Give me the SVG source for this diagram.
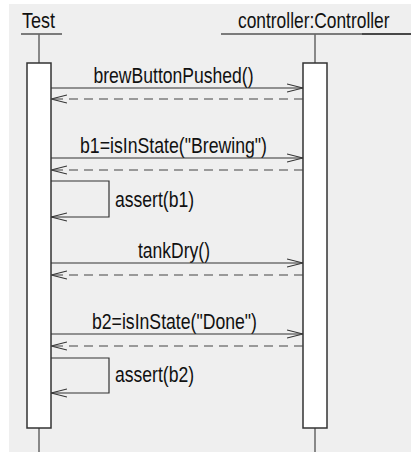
<svg xmlns="http://www.w3.org/2000/svg" width="411" height="452" viewBox="0 0 411 452">
  <style>
    text { font-family: "Liberation Sans", Arial, sans-serif; font-size: 22px; fill: #111; }
    .life { stroke: #666; stroke-width: 1.5; fill: none; }
    .act { fill: #fff; stroke: #333; stroke-width: 1.5; }
    .call { stroke: #333; stroke-width: 1.2; fill: none; }
    .ret { stroke: #444; stroke-width: 1.2; fill: none; stroke-dasharray: 9 6; }
    .head { stroke: #333; stroke-width: 1.2; fill: none; }
  </style>
  <defs>
    <marker id="open" viewBox="0 0 16 10" refX="16" refY="5" markerWidth="16" markerHeight="10" markerUnits="userSpaceOnUse" orient="auto">
      <path d="M0,1 L16,5 L0,9" class="head"/>
    </marker>
  </defs>

  <!-- canvas -->
  <rect x="9" y="4" width="402" height="448" fill="#efefef"/>

  <!-- participant: Test -->
  <g id="test">
    <text x="38.5" y="28" text-anchor="middle" textLength="33" lengthAdjust="spacingAndGlyphs">Test</text>
    <line x1="21" y1="34" x2="62" y2="34" stroke="#555" stroke-width="1.5"/>
    <line class="life" x1="39" y1="34" x2="39" y2="63"/>
    <line class="life" x1="39" y1="428" x2="39" y2="452"/>
    <rect class="act" x="27" y="63" width="24" height="365"/>
  </g>

  <!-- participant: controller (narrowed horizontally to fit the header) -->
  <g id="controller">
    <text transform="translate(238,28) scale(0.79,1)" x="0" y="0">controller:Controller</text>
    <line x1="221" y1="34" x2="362" y2="34" stroke="#555" stroke-width="1.5"/>
    <line x1="362" y1="34" x2="411" y2="34" stroke="#111" stroke-width="1.5"/>
    <line class="life" x1="315" y1="34" x2="315" y2="63"/>
    <line class="life" x1="315" y1="428" x2="315" y2="452"/>
    <rect class="act" x="303" y="63" width="24" height="365"/>
  </g>

  <!-- messages -->
  <g id="connectors">
    <text x="173.5" y="83" text-anchor="middle" textLength="160" lengthAdjust="spacingAndGlyphs">brewButtonPushed()</text>
    <line class="call" x1="51" y1="88" x2="303" y2="88" marker-end="url(#open)"/>
    <line class="ret" x1="303" y1="99" x2="51" y2="99" marker-end="url(#open)"/>

    <text x="173.5" y="152.5" text-anchor="middle" textLength="187" lengthAdjust="spacingAndGlyphs">b1=isInState("Brewing")</text>
    <line class="call" x1="51" y1="158" x2="303" y2="158" marker-end="url(#open)"/>
    <line class="ret" x1="303" y1="170" x2="51" y2="170" marker-end="url(#open)"/>

    <polyline class="call" points="51,181 109,181 109,217 51,217" marker-end="url(#open)"/>
    <text x="115" y="207" textLength="79" lengthAdjust="spacingAndGlyphs">assert(b1)</text>

    <text x="174" y="258" text-anchor="middle" textLength="72" lengthAdjust="spacingAndGlyphs">tankDry()</text>
    <line class="call" x1="51" y1="263" x2="303" y2="263" marker-end="url(#open)"/>
    <line class="ret" x1="303" y1="275" x2="51" y2="275" marker-end="url(#open)"/>

    <text x="174.5" y="328.5" text-anchor="middle" textLength="165" lengthAdjust="spacingAndGlyphs">b2=isInState("Done")</text>
    <line class="call" x1="51" y1="334" x2="303" y2="334" marker-end="url(#open)"/>
    <line class="ret" x1="303" y1="346" x2="51" y2="346" marker-end="url(#open)"/>

    <polyline class="call" points="51,358 109,358 109,393 51,393" marker-end="url(#open)"/>
    <text x="115" y="382" textLength="79" lengthAdjust="spacingAndGlyphs">assert(b2)</text>
  </g>
</svg>
